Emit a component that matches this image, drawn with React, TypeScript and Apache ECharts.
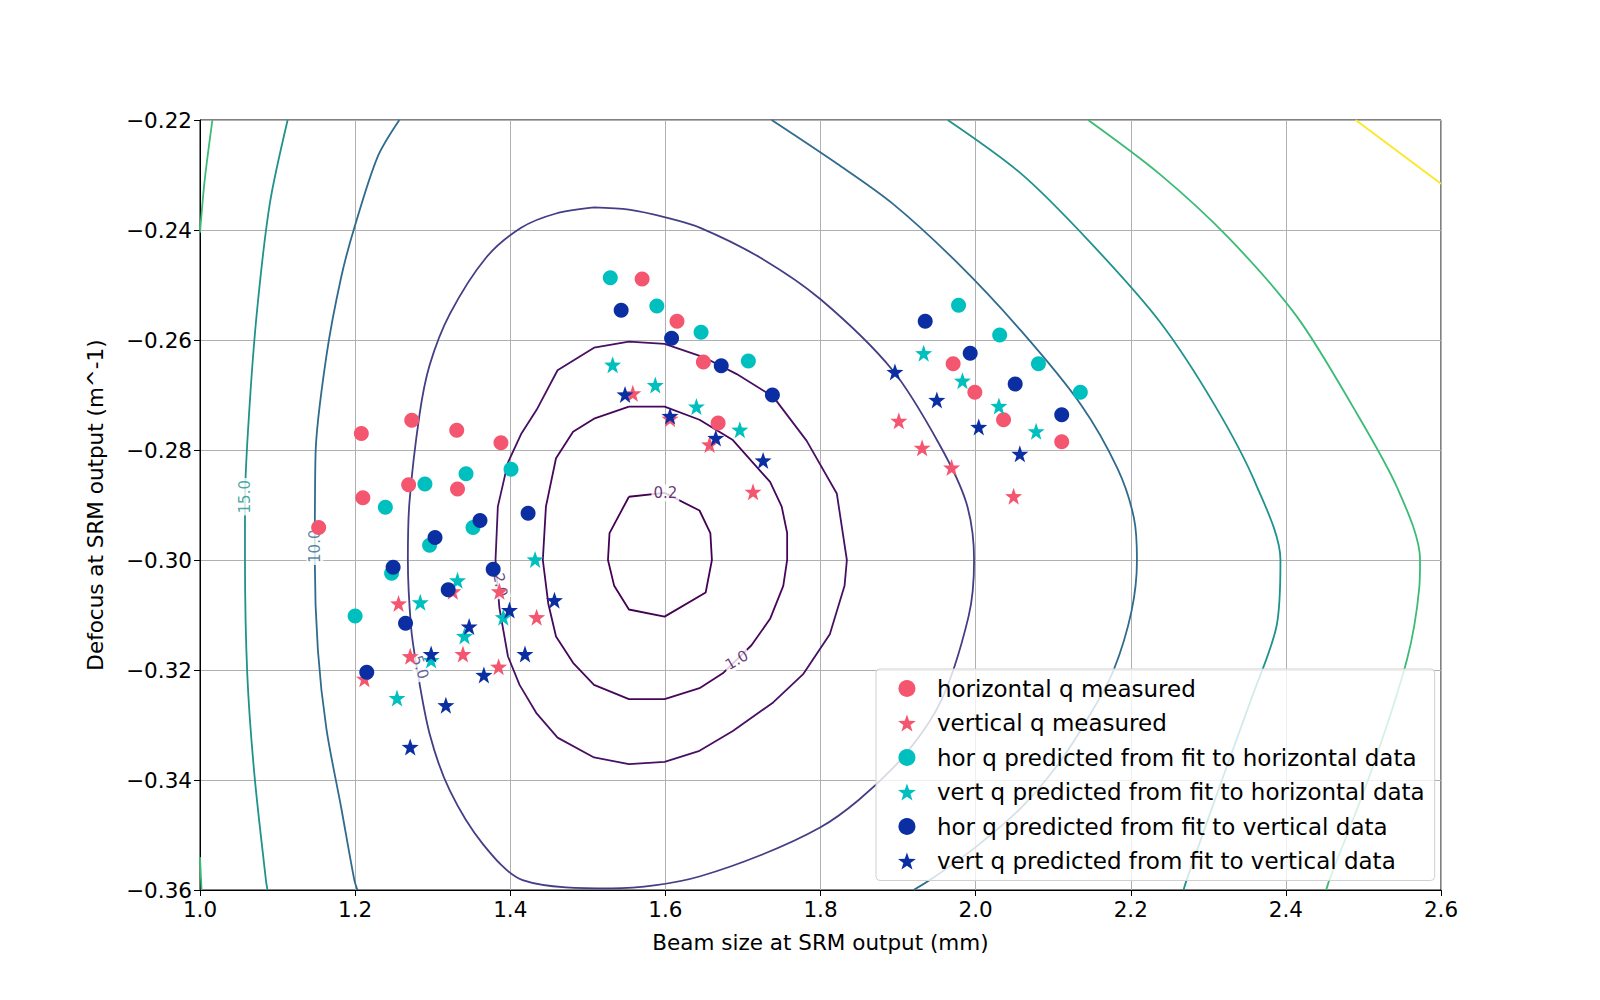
import { useEffect, useRef } from "react"
import * as echarts from "echarts"

type Pt = [number, number]

// measured / predicted points
const horMeasured: Pt[] = [
  [1.153, -0.2941], [1.208, -0.277], [1.21, -0.2887], [1.273, -0.2746], [1.269, -0.2863],
  [1.331, -0.2764], [1.332, -0.2871], [1.388, -0.2787], [1.57, -0.2489], [1.615, -0.2566],
  [1.649, -0.264], [1.668, -0.2751], [1.971, -0.2643], [1.999, -0.2695], [2.036, -0.2745],
  [2.111, -0.2785],
]
const vertMeasured: Pt[] = [
  [1.256, -0.3079], [1.271, -0.3175], [1.212, -0.3216], [1.339, -0.3171], [1.326, -0.3057],
  [1.386, -0.3057], [1.385, -0.3194], [1.434, -0.3104], [1.558, -0.2697], [1.606, -0.2743],
  [1.657, -0.279], [1.713, -0.2876], [1.901, -0.2747], [1.931, -0.2796], [1.969, -0.2832],
  [2.049, -0.2884],
]
const horPredH: Pt[] = [
  [1.29, -0.2862], [1.343, -0.2843], [1.401, -0.2835], [1.239, -0.2904], [1.352, -0.2941],
  [1.296, -0.2973], [1.247, -0.3024], [1.2, -0.3102], [1.529, -0.2487], [1.589, -0.2538],
  [1.646, -0.2586], [1.707, -0.2638], [1.978, -0.2537], [2.031, -0.2591], [2.081, -0.2643],
  [2.135, -0.2695],
]
const vertPredH: Pt[] = [
  [1.332, -0.3037], [1.284, -0.3077], [1.432, -0.2999], [1.391, -0.3104], [1.341, -0.3138],
  [1.298, -0.3182], [1.254, -0.3251], [1.532, -0.2645], [1.587, -0.2682], [1.64, -0.2721],
  [1.696, -0.2763], [1.933, -0.2624], [1.983, -0.2674], [2.03, -0.272], [2.078, -0.2766],
]
const horPredV: Pt[] = [
  [1.303, -0.2959], [1.361, -0.2928], [1.423, -0.2915], [1.249, -0.3013], [1.378, -0.3017],
  [1.32, -0.3054], [1.265, -0.3115], [1.215, -0.3204], [1.543, -0.2546], [1.608, -0.2597],
  [1.672, -0.2647], [1.738, -0.27], [1.935, -0.2566], [1.993, -0.2624], [2.051, -0.268],
  [2.111, -0.2736],
]
const vertPredV: Pt[] = [
  [1.399, -0.3091], [1.457, -0.3073], [1.347, -0.3121], [1.298, -0.3171], [1.419, -0.3171],
  [1.366, -0.3209], [1.317, -0.3264], [1.271, -0.334], [1.548, -0.2699], [1.606, -0.2738],
  [1.665, -0.2778], [1.726, -0.2819], [1.896, -0.2658], [1.95, -0.2709], [2.004, -0.2758],
  [2.057, -0.2807],
]

// contour lines
const c02: Pt[] = [
  [1.553, -0.2885], [1.599, -0.2878], [1.644, -0.291], [1.658, -0.2951], [1.66, -0.3],
  [1.652, -0.3059], [1.599, -0.3103], [1.553, -0.309], [1.534, -0.3047], [1.526, -0.3],
  [1.528, -0.2951], [1.553, -0.2885],
]
const c10: Pt[] = [
  [1.553, -0.2721], [1.599, -0.2721], [1.644, -0.2745], [1.687, -0.2782], [1.735, -0.2858],
  [1.75, -0.2903], [1.757, -0.2951], [1.757, -0.3], [1.752, -0.3047], [1.735, -0.3107],
  [1.711, -0.3155], [1.674, -0.3206], [1.644, -0.3233], [1.599, -0.3253], [1.553, -0.3253],
  [1.508, -0.3227], [1.481, -0.3187], [1.459, -0.3139], [1.449, -0.3079], [1.442, -0.3],
  [1.446, -0.2903], [1.459, -0.2815], [1.481, -0.2767], [1.508, -0.2743], [1.553, -0.2721],
]
const c20: Pt[] = [
  [1.553, -0.2603], [1.599, -0.2607], [1.649, -0.2631], [1.692, -0.2662], [1.739, -0.2703],
  [1.782, -0.2783], [1.821, -0.2879], [1.834, -0.3], [1.831, -0.3047], [1.812, -0.3135],
  [1.778, -0.3207], [1.739, -0.3259], [1.687, -0.3311], [1.644, -0.3347], [1.599, -0.3367],
  [1.553, -0.3371], [1.508, -0.3359], [1.461, -0.3323], [1.434, -0.3279], [1.412, -0.3227],
  [1.397, -0.3175], [1.386, -0.3087], [1.381, -0.3], [1.384, -0.2903], [1.397, -0.2823],
  [1.414, -0.2771], [1.434, -0.2727], [1.461, -0.2655], [1.508, -0.2614], [1.553, -0.2603],
]
const c50: Pt[] = [
  [1.508, -0.2359], [1.553, -0.2363], [1.6, -0.2377], [1.645, -0.2396], [1.722, -0.245],
  [1.8, -0.2526], [1.893, -0.2655], [1.953, -0.2789], [1.988, -0.2896], [1.998, -0.3],
  [1.991, -0.3102], [1.953, -0.3263], [1.893, -0.3379], [1.8, -0.3486], [1.645, -0.3575],
  [1.53, -0.3597], [1.416, -0.3582], [1.365, -0.3517], [1.322, -0.3419],
  [1.296, -0.3316], [1.279, -0.3191], [1.272, -0.312], [1.268, -0.3], [1.27, -0.2896],
  [1.283, -0.2736], [1.296, -0.2646], [1.322, -0.2553], [1.369, -0.245], [1.414, -0.2396],
  [1.459, -0.237], [1.508, -0.2359],
]
const c100L: Pt[] = [
  [1.257, -0.22], [1.229, -0.2267], [1.199, -0.2396], [1.182, -0.2486], [1.163, -0.2629],
  [1.149, -0.2807], [1.148, -0.3], [1.152, -0.3164], [1.163, -0.3307], [1.182, -0.345],
  [1.199, -0.3582], [1.203, -0.36],
]
const c100R: Pt[] = [
  [1.737, -0.22], [1.822, -0.228], [1.893, -0.2352], [1.976, -0.2459], [2.059, -0.2584],
  [2.136, -0.2718], [2.183, -0.2834], [2.204, -0.2923], [2.208, -0.3], [2.201, -0.3093],
  [2.178, -0.32], [2.148, -0.328], [2.107, -0.337], [2.059, -0.345], [2.0, -0.3522],
  [1.941, -0.3582], [1.92, -0.36],
]
const c150L: Pt[] = [
  [1.113, -0.22], [1.09, -0.2352], [1.074, -0.254], [1.064, -0.2718], [1.058, -0.2896],
  [1.058, -0.3], [1.061, -0.3209], [1.07, -0.3388], [1.085, -0.3582], [1.087, -0.36],
]
const c150R: Pt[] = [
  [1.964, -0.22], [2.059, -0.2298], [2.148, -0.2423], [2.237, -0.2566], [2.308, -0.2718],
  [2.361, -0.2861], [2.393, -0.3], [2.388, -0.312], [2.355, -0.3254], [2.314, -0.3414],
  [2.272, -0.3582], [2.268, -0.36],
]
const c200L: Pt[] = [[1.016, -0.22], [1.006, -0.231], [1.0, -0.2405]]
const c200L2: Pt[] = [[1.0, -0.354], [1.002, -0.36]]
const c200R: Pt[] = [
  [2.145, -0.22], [2.237, -0.2298], [2.326, -0.2414], [2.414, -0.2557], [2.485, -0.2718],
  [2.544, -0.287], [2.573, -0.3], [2.572, -0.305], [2.556, -0.3182], [2.509, -0.3388],
  [2.456, -0.3582], [2.452, -0.36],
]
const c250: Pt[] = [[2.49, -0.22], [2.6, -0.2316]]

const contours: { pts: Pt[]; color: string; smooth: boolean }[] = [
  { pts: c02, color: "#440154", smooth: false },
  { pts: c10, color: "#46075a", smooth: false },
  { pts: c20, color: "#471063", smooth: false },
  { pts: c50, color: "#433e85", smooth: true },
  { pts: c100L, color: "#2f6b8e", smooth: true },
  { pts: c100R, color: "#2f6b8e", smooth: true },
  { pts: c150L, color: "#20928c", smooth: true },
  { pts: c150R, color: "#20928c", smooth: true },
  { pts: c200L, color: "#3bbb75", smooth: true },
  { pts: c200L2, color: "#3bbb75", smooth: true },
  { pts: c200R, color: "#3bbb75", smooth: true },
  { pts: c250, color: "#fde725", smooth: false },
]

const contourLabels: { text: string; at: Pt; rotate: number; color: string }[] = [
  { text: "0.2", at: [1.6, -0.2878], rotate: 0, color: "#440154" },
  { text: "1.0", at: [1.692, -0.3182], rotate: 30, color: "#46075a" },
  { text: "2.0", at: [1.387, -0.3045], rotate: -80, color: "#471063" },
  { text: "5.0", at: [1.284, -0.3195], rotate: -72, color: "#433e85" },
  { text: "10.0", at: [1.148, -0.2975], rotate: 90, color: "#2f6b8e" },
  { text: "15.0", at: [1.058, -0.2885], rotate: 90, color: "#20928c" },
]

const RED = "#f5566f"
const CYAN = "#00bfbf"
const DARK = "#0b2fa2"
const STAR =
  "path://M0,-10L2.35,-3.24L9.51,-3.09L3.8,1.24L5.88,8.09L0,4L-5.88,8.09L-3.8,1.24L-9.51,-3.09L-2.35,-3.24Z"

const minus = (s: string) => s.replace("-", "\u2212")

export default function App() {
  const ref = useRef<HTMLDivElement>(null)

  useEffect(() => {
    if (!ref.current) return
    const chart = echarts.init(ref.current, null, { renderer: "svg" })
    const font = "DejaVu Sans"

    const scatter = (name: string, data: Pt[], color: string, star: boolean) => ({
      name,
      type: "scatter",
      data,
      symbol: star ? STAR : "circle",
      symbolSize: star ? 17 : 15,
      itemStyle: { color, opacity: 1 },
      z: 5,
    })

    chart.setOption({
      animation: false,
      textStyle: { fontFamily: font },
      grid: { left: 200, top: 120, width: 1241, height: 770, show: true, borderColor: "#000", borderWidth: 1 },
      xAxis: {
        type: "value",
        min: 1.0,
        max: 2.6,
        interval: 0.2,
        name: "Beam size at SRM output (mm)",
        nameLocation: "middle",
        nameGap: 41,
        nameTextStyle: { fontSize: 21.5, color: "#000", fontFamily: font },
        axisLine: { lineStyle: { color: "#000" } },
        axisTick: { length: 6, lineStyle: { color: "#000" } },
        axisLabel: { fontSize: 21.5, color: "#000", margin: 8, formatter: (v: number) => v.toFixed(1) },
        splitLine: { lineStyle: { color: "#b0b0b0" } },
      },
      yAxis: {
        type: "value",
        min: -0.36,
        max: -0.22,
        interval: 0.02,
        name: "Defocus at SRM output (m^-1)",
        nameLocation: "middle",
        nameGap: 94,
        nameTextStyle: { fontSize: 21.5, color: "#000", fontFamily: font },
        axisLine: { lineStyle: { color: "#000" } },
        axisTick: { length: 6, lineStyle: { color: "#000" } },
        axisLabel: { fontSize: 21.5, color: "#000", margin: 8, formatter: (v: number) => minus(v.toFixed(2)) },
        splitLine: { lineStyle: { color: "#b0b0b0" } },
      },
      legend: {
        left: 876,
        top: 669,
        orient: "vertical",
        backgroundColor: "rgba(255,255,255,0.8)",
        borderColor: "#d0d0d0",
        borderWidth: 1,
        borderRadius: 4,
        padding: [8, 10, 8, 22],
        itemGap: 11.5,
        itemWidth: 18,
        itemHeight: 17,
        textStyle: { fontSize: 23, color: "#000", fontFamily: font, padding: [0, 0, 0, 16] },
        data: [
          "horizontal q measured",
          "vertical q measured",
          "hor q predicted from fit to horizontal data",
          "vert q predicted from fit to horizontal data",
          "hor q predicted from fit to vertical data",
          "vert q predicted from fit to vertical data",
        ],
      },
      series: [
        ...contours.map((c) => ({
          type: "line",
          data: c.pts,
          showSymbol: false,
          smooth: c.smooth ? 0.3 : false,
          lineStyle: { color: c.color, width: 1.8 },
          silent: true,
          z: 2,
        })),
        {
          type: "scatter",
          data: contourLabels.map((l) => ({
            value: l.at,
            label: {
              show: true,
              position: "inside",
              formatter: l.text,
              rotate: l.rotate,
              color: l.color,
              fontSize: 15,
              backgroundColor: "#fff",
              padding: [1, 2],
            },
          })),
          symbolSize: 1,
          itemStyle: { color: "transparent" },
          silent: true,
          z: 3,
        },
        scatter("horizontal q measured", horMeasured, RED, false),
        scatter("vertical q measured", vertMeasured, RED, true),
        scatter("hor q predicted from fit to horizontal data", horPredH, CYAN, false),
        scatter("vert q predicted from fit to horizontal data", vertPredH, CYAN, true),
        scatter("hor q predicted from fit to vertical data", horPredV, DARK, false),
        scatter("vert q predicted from fit to vertical data", vertPredV, DARK, true),
      ],
    })
    return () => chart.dispose()
  }, [])

  return (
    <div
      ref={ref}
      style={{ position: "fixed", left: 0, top: 0, width: 1600, height: 1000, background: "#fff", overflow: "hidden" }}
    />
  )
}
